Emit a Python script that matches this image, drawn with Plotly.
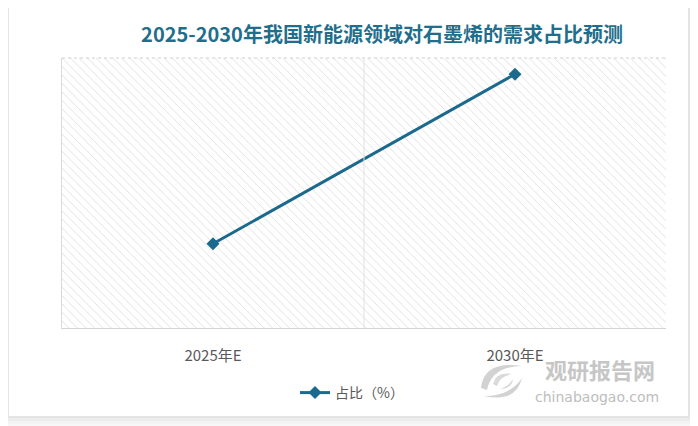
import plotly.graph_objects as go

categories = ["2025年E", "2030年E"]
share_values = [15.6, 47.0]
series_name = "占比（%）"
title_text = "2025-2030年我国新能源领域对石墨烯的需求占比预测"

LINE_COLOR = "#1b6a8d"
TITLE_COLOR = "#1f6e8c"
FONT = "Noto Sans CJK SC, Noto Sans, sans-serif"

x_idx = list(range(len(categories)))
x_lo, x_hi = -0.5, len(categories) - 0.5
y_lo, y_hi = 0, 50

# page has an 8px body margin: figure pixel = reference pixel - 8
OFF = 8
FW, FH = 698 - OFF, 426 - OFF
L, R, T, B = 62 - OFF, 666 - OFF, 58 - OFF, 328 - OFF
W, H = R - L, B - T

def px(xr):
    return (xr - OFF - L) / W

def py(yr):
    return (B - (yr - OFF)) / H

fig = go.Figure()

# hatched plot-area background (decoration)
fig.add_trace(go.Scatter(
    x=[x_lo, x_hi, x_hi, x_lo, x_lo], y=[y_lo, y_lo, y_hi, y_hi, y_lo],
    mode="none", fill="toself", fillcolor="white",
    fillpattern=dict(shape="\\", fgcolor="#bdbdbd", bgcolor="white", size=6, solidity=0.15),
    hoverinfo="skip", showlegend=False,
))

fig.add_trace(go.Scatter(
    x=x_idx, y=share_values, name=series_name, mode="lines+markers",
    line=dict(color=LINE_COLOR, width=3),
    marker=dict(symbol="diamond", size=10, color=LINE_COLOR),
))

shapes = []
# card with soft shadow on right / bottom
for off, col in [(8, "#f3f3f3"), (5, "#ececec"), (2, "#e4e4e4")]:
    shapes.append(dict(type="rect", xref="paper", yref="paper", layer="below",
                       line=dict(width=0), fillcolor=col,
                       x0=px(9 - off), x1=px(688 + off), y0=py(416 + off), y1=py(8 - off)))
shapes.append(dict(type="rect", xref="paper", yref="paper", layer="below",
                   line=dict(width=0), fillcolor="white",
                   x0=px(9), x1=px(688), y0=py(416), y1=py(8)))
# dotted top border
shapes.append(dict(type="line", xref="paper", yref="paper", x0=0, x1=1, y0=1, y1=1,
                   line=dict(color="#cfcfcf", width=1, dash="dot")))
# category boundary gridline
shapes.append(dict(type="line", xref="x", yref="paper", x0=0.5, x1=0.5, y0=0, y1=1,
                   line=dict(color="#e2e2e2", width=1)))

# watermark logo swirl (decoration)
def path(pts):
    s = ""
    for cmd, coords in pts:
        s += cmd + " " + " ".join(f"{px(a):.4f},{py(b):.4f}" for a, b in coords) + " "
    return s.strip()

logo_col = "#d2d2d2"
shapes.append(dict(type="path", xref="paper", yref="paper", line=dict(width=0), fillcolor=logo_col,
                   path=path([("M", [(481, 388)]), ("Q", [(484, 360), (522, 366)]),
                              ("Q", [(492, 366), (487, 390)]), ("Z", [])])))
shapes.append(dict(type="path", xref="paper", yref="paper", line=dict(width=0), fillcolor=logo_col,
                   path=path([("M", [(484, 396)]), ("Q", [(516, 403), (522, 378)]),
                              ("Q", [(510, 396), (484, 396)]), ("Z", [])])))
shapes.append(dict(type="path", xref="paper", yref="paper", line=dict(width=0), fillcolor="#dadada",
                   path=path([("M", [(493, 384)]), ("Q", [(496, 371), (512, 374)]),
                              ("Q", [(500, 376), (497, 386)]), ("Z", [])])))
shapes.append(dict(type="path", xref="paper", yref="paper", line=dict(width=0), fillcolor="#dadada",
                   path=path([("M", [(499, 389)]), ("Q", [(512, 389), (513, 379)]),
                              ("Q", [(508, 387), (499, 389)]), ("Z", [])])))

fig.update_layout(
    width=FW, height=FH,
    margin=dict(l=L, r=FW - R, t=T, b=FH - B),
    paper_bgcolor="#f7f7f7",
    plot_bgcolor="white",
    font=dict(family=FONT, color="#595959", size=13),
    title=dict(text=f"<b>{title_text}</b>", x=(382 - OFF) / FW, y=1 - (35 - OFF) / FH,
               xanchor="center", yanchor="middle",
               font=dict(family=FONT, size=20, color=TITLE_COLOR)),
    xaxis=dict(range=[x_lo, x_hi], tickvals=x_idx, ticktext=categories,
               showgrid=False, zeroline=False, showline=True, linecolor="#d4d4d4",
               linewidth=1, ticks="", ticklabelstandoff=14,
               tickfont=dict(size=15, color="#595959")),
    yaxis=dict(range=[y_lo, y_hi], showticklabels=False, showgrid=False,
               zeroline=False, showline=True, linecolor="#d9d9d9", linewidth=1, ticks=""),
    legend=dict(orientation="h", x=px(352), xanchor="center",
                y=py(393), yanchor="middle",
                font=dict(size=14, color="#595959"), bgcolor="rgba(0,0,0,0)"),
    shapes=shapes,
    showlegend=True,
)

# watermark text
fig.add_annotation(text="<b>观研报告网</b>", xref="paper", yref="paper",
                   x=px(600), y=py(369), showarrow=False,
                   font=dict(size=22, color="#c6c6c6", family=FONT),
                   xanchor="center", yanchor="middle")
fig.add_annotation(text="chinabaogao.com", xref="paper", yref="paper",
                   x=px(597), y=py(397), showarrow=False,
                   font=dict(size=14, color="#bdbdbd", family="DejaVu Sans, sans-serif"),
                   xanchor="center", yanchor="middle")

fig.write_html("out.html")
